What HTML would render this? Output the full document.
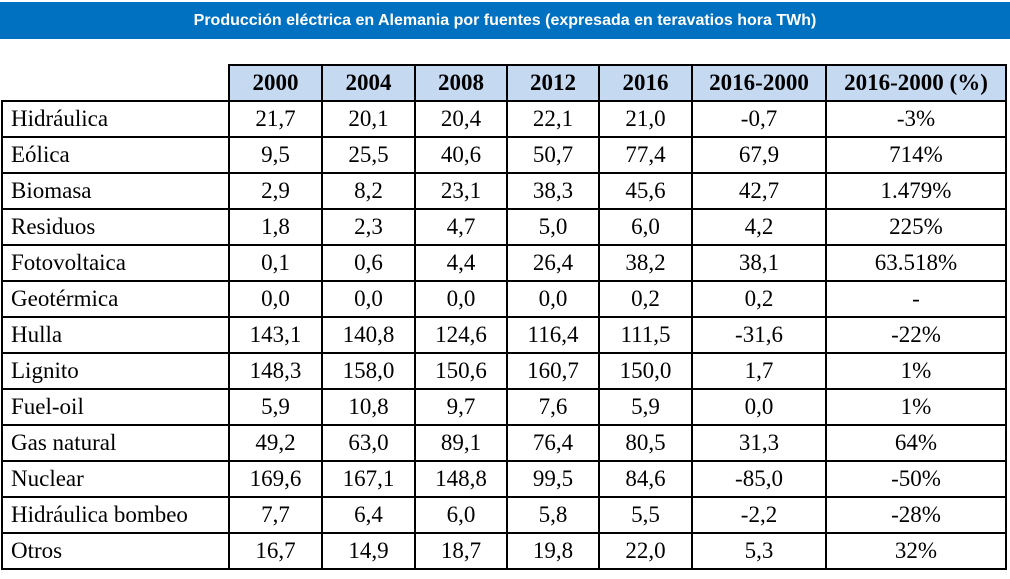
<!DOCTYPE html>
<html><head><meta charset="utf-8"><style>
body{margin:0;width:1010px;height:579px;background:#fff;overflow:hidden;position:relative;font-family:"Liberation Serif",serif}
#title{position:absolute;left:0;top:2px;width:1010px;height:37px;background:#0070C0;color:#fff;font:bold 16px "Liberation Sans",sans-serif;text-align:center;line-height:37px}
table{position:absolute;left:1px;top:64px;border-collapse:collapse;table-layout:fixed}
td{border:2px solid #000;height:34px;padding:0;font-size:23px;text-align:center;white-space:nowrap;overflow:hidden;line-height:34px}
td.l{text-align:left;padding-left:8px}
tr.h td{background:#C5D9F1;font-weight:bold}
tr.h td.e{background:#fff;border-top:none;border-left:none}
</style></head><body>
<div id="title">Producción eléctrica en Alemania por fuentes (expresada en teravatios hora TWh)</div>
<table>
<colgroup><col style="width:227px"><col style="width:93px"><col style="width:93px"><col style="width:92px"><col style="width:92px"><col style="width:93px"><col style="width:134px"><col style="width:180px"></colgroup>
<tr class="h"><td class="e"></td><td>2000</td><td>2004</td><td>2008</td><td>2012</td><td>2016</td><td>2016-2000</td><td>2016-2000 (%)</td></tr>
<tr><td class="l">Hidráulica</td><td>21,7</td><td>20,1</td><td>20,4</td><td>22,1</td><td>21,0</td><td>-0,7</td><td>-3%</td></tr>
<tr><td class="l">Eólica</td><td>9,5</td><td>25,5</td><td>40,6</td><td>50,7</td><td>77,4</td><td>67,9</td><td>714%</td></tr>
<tr><td class="l">Biomasa</td><td>2,9</td><td>8,2</td><td>23,1</td><td>38,3</td><td>45,6</td><td>42,7</td><td>1.479%</td></tr>
<tr><td class="l">Residuos</td><td>1,8</td><td>2,3</td><td>4,7</td><td>5,0</td><td>6,0</td><td>4,2</td><td>225%</td></tr>
<tr><td class="l">Fotovoltaica</td><td>0,1</td><td>0,6</td><td>4,4</td><td>26,4</td><td>38,2</td><td>38,1</td><td>63.518%</td></tr>
<tr><td class="l">Geotérmica</td><td>0,0</td><td>0,0</td><td>0,0</td><td>0,0</td><td>0,2</td><td>0,2</td><td>-</td></tr>
<tr><td class="l">Hulla</td><td>143,1</td><td>140,8</td><td>124,6</td><td>116,4</td><td>111,5</td><td>-31,6</td><td>-22%</td></tr>
<tr><td class="l">Lignito</td><td>148,3</td><td>158,0</td><td>150,6</td><td>160,7</td><td>150,0</td><td>1,7</td><td>1%</td></tr>
<tr><td class="l">Fuel-oil</td><td>5,9</td><td>10,8</td><td>9,7</td><td>7,6</td><td>5,9</td><td>0,0</td><td>1%</td></tr>
<tr><td class="l">Gas natural</td><td>49,2</td><td>63,0</td><td>89,1</td><td>76,4</td><td>80,5</td><td>31,3</td><td>64%</td></tr>
<tr><td class="l">Nuclear</td><td>169,6</td><td>167,1</td><td>148,8</td><td>99,5</td><td>84,6</td><td>-85,0</td><td>-50%</td></tr>
<tr><td class="l">Hidráulica bombeo</td><td>7,7</td><td>6,4</td><td>6,0</td><td>5,8</td><td>5,5</td><td>-2,2</td><td>-28%</td></tr>
<tr><td class="l">Otros</td><td>16,7</td><td>14,9</td><td>18,7</td><td>19,8</td><td>22,0</td><td>5,3</td><td>32%</td></tr>
</table>
</body></html>
